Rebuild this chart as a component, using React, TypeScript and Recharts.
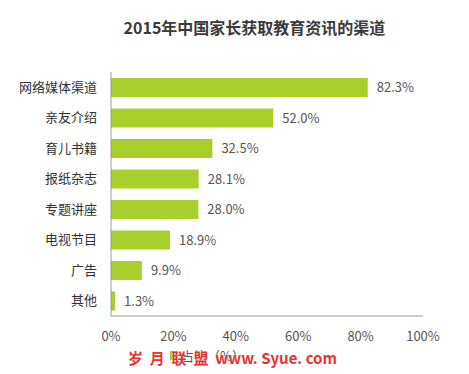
import { Bar, BarChart, LabelList, XAxis, YAxis } from "recharts";

const channels = ["网络媒体渠道", "亲友介绍", "育儿书籍", "报纸杂志", "专题讲座", "电视节目", "广告", "其他"];
const shares = [82.3, 52.0, 32.5, 28.1, 28.0, 18.9, 9.9, 1.3];
const xTicks = [0, 20, 40, 60, 80, 100];

const data = channels.map((name, i) => ({ name, share: shares[i] }));

const font = '"Noto Sans CJK SC", "Noto Sans", sans-serif';

const App = () => {
  return (
    <div style={{ position: "relative", width: 469, height: 374, background: "#fff", fontFamily: font }}>
      <style>{"body{margin:0}"}</style>
      <div
        style={{
          position: "absolute",
          top: 15,
          left: 0,
          width: 509,
          textAlign: "center",
          fontSize: 16,
          fontWeight: 700,
          color: "#3a3a3a",
        }}
      >
        2015年中国家长获取教育资讯的渠道
      </div>
      <BarChart
        width={469}
        height={374}
        layout="vertical"
        data={data}
        margin={{ top: 72, right: 46, bottom: 28, left: 0 }}
      >
        <XAxis
          type="number"
          domain={[0, 100]}
          ticks={xTicks}
          tickFormatter={(v: number) => `${v}%`}
          axisLine={{ stroke: "#999" }}
          tickLine={false}
          tickSize={0}
          tickMargin={16}
          height={30}
          tick={{ fontSize: 13, fill: "#555", fontFamily: font }}
        />
        <YAxis
          type="category"
          dataKey="name"
          width={111}
          axisLine={{ stroke: "#999" }}
          tickLine={false}
          tickSize={0}
          tickMargin={14}
          tick={{ fontSize: 13, fill: "#333", fontFamily: font }}
        />
        <Bar dataKey="share" fill="#a8cf2c" barSize={19} isAnimationActive={false}>
          <LabelList
            dataKey="share"
            position="right"
            offset={9}
            formatter={(v: number) => `${v.toFixed(1)}%`}
            style={{ fontSize: 13, fill: "#555", fontFamily: font }}
          />
        </Bar>
      </BarChart>
      <div
        style={{
          position: "absolute",
          top: 346,
          left: 170,
          display: "flex",
          alignItems: "center",
          fontSize: 13,
          color: "#555",
        }}
      >
        <span style={{ display: "inline-block", width: 7, height: 9, background: "#a8cf2c", marginRight: 4 }} />
        占比（%）
      </div>
      <div
        style={{
          position: "absolute",
          top: 347,
          left: 128,
          fontSize: 15,
          fontWeight: 700,
          color: "#e8332f",
          whiteSpace: "pre",
          textShadow: "0 0 2px #fff",
        }}
      >
        {"岁  月  联  盟  www. Syue. com"}
      </div>
    </div>
  );
};

export default App;
